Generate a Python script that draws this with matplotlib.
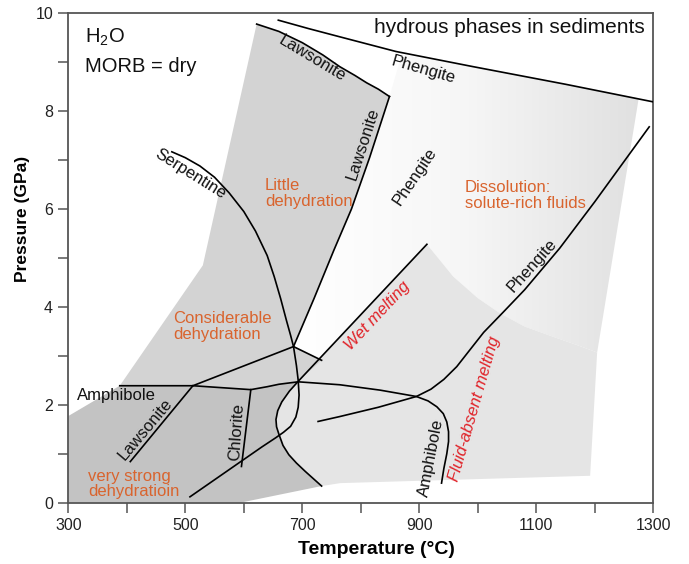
import numpy as np
import matplotlib.pyplot as plt
from matplotlib.patches import Polygon
from matplotlib.colors import LinearSegmentedColormap

plt.rcParams['font.family'] = ['Liberation Sans', 'DejaVu Sans']
plt.rcParams['mathtext.default'] = 'regular'

# ---- phase boundaries (T in degC, P in GPa) ----
serp_T = [477, 500, 525, 550, 575, 600, 620, 640, 652, 663, 673, 680, 685, 690, 693, 694.5, 693, 689, 680, 668, 655, 631, 508]
serp_P = [7.17, 7.05, 6.88, 6.65, 6.33, 5.95, 5.55, 5.05, 4.62, 4.17, 3.72, 3.42, 3.19, 2.80, 2.50, 2.20, 1.95, 1.75, 1.56, 1.44, 1.33, 1.14, 0.12]

wet_T = [913, 693, 678, 665, 658, 655, 656, 660, 667, 677, 690, 705, 733]
wet_P = [5.28, 2.48, 2.28, 2.06, 1.88, 1.70, 1.55, 1.40, 1.17, 0.98, 0.81, 0.64, 0.34]

amph_T = [388, 513, 612, 640, 660, 693, 764, 833, 895, 915, 930, 941, 947, 950, 950, 947, 942, 938]
amph_P = [2.39, 2.39, 2.31, 2.37, 2.42, 2.47, 2.41, 2.30, 2.17, 2.08, 1.96, 1.82, 1.65, 1.45, 1.25, 1.00, 0.70, 0.40]

laws_top_T = [622, 660, 700, 735, 764, 790, 810, 830, 849]
laws_top_P = [9.78, 9.63, 9.40, 9.15, 8.91, 8.73, 8.58, 8.45, 8.30]

laws_right_T = [849, 815, 784, 754, 720, 685]
laws_right_P = [8.30, 7.05, 6.00, 5.16, 4.17, 3.19]

laws_low_T = [513, 406]
laws_low_P = [2.39, 0.84]

chl_T = [612, 596]
chl_P = [2.31, 0.74]

tie_T = [513, 685, 733]
tie_P = [2.39, 3.19, 2.91]

phen_top_T = [659, 710, 764, 860, 992, 1150, 1300]
phen_top_P = [9.86, 9.69, 9.52, 9.22, 8.91, 8.55, 8.19]

phen_low_T = [727, 764, 830, 895, 920, 942, 964, 985, 1010, 1044, 1080, 1140, 1200, 1293]
phen_low_P = [1.66, 1.76, 1.95, 2.17, 2.32, 2.52, 2.78, 3.10, 3.48, 3.90, 4.35, 5.20, 6.15, 7.68]

# ---- shaded fields ----
dark_T = [300, 300, 388, 513, 612, 640, 660, 693] + wet_T[2:] + [594]
dark_P = [0, 1.77, 2.39, 2.39, 2.31, 2.37, 2.42, 2.48] + wet_P[2:] + [0]

mid_T = [388, 530] + laws_top_T + laws_right_T[1:] + [733, 693, 660, 640, 612, 513]
mid_P = [2.39, 4.85] + laws_top_P + laws_right_P[1:] + [2.91, 2.48, 2.42, 2.37, 2.31, 2.39]

arc_T = [913, 958, 1000, 1038, 1080, 1129, 1170, 1204]
arc_P = [5.28, 4.62, 4.18, 3.87, 3.60, 3.39, 3.22, 3.07]

melt_T = wet_T[::-1] + arc_T[1:] + [1192, 765]
melt_P = wet_P[::-1] + arc_P[1:] + [0.55, 0.40]

diss_T = laws_right_T[::-1] + [870, 992, 1150, 1275, 1204] + arc_T[::-1][1:] + [733]
diss_P = laws_right_P[::-1] + [9.16, 8.91, 8.55, 8.26, 3.07] + arc_P[::-1][1:] + [2.91]

fig = plt.figure(figsize=(6.89, 5.64), dpi=100)
ax = fig.add_axes([0.0991, 0.1087, 0.8491, 0.8677])

# solute-rich field fades from white to grey towards high T
cmap = LinearSegmentedColormap.from_list('fade', ['#ffffff', '#f6f6f6', '#e0e0e0'])
diss = Polygon(np.column_stack([diss_T, diss_P]), closed=True, fc='none', ec='none')
ax.add_patch(diss)
im = ax.imshow(np.linspace(0, 1, 256).reshape(1, -1), extent=(690, 1280, 0, 10),
               cmap=cmap, aspect='auto', origin='lower', zorder=1)
im.set_clip_path(diss)

ax.add_patch(Polygon(np.column_stack([melt_T, melt_P]), closed=True, fc='#e5e5e5', ec='none', zorder=1))
ax.add_patch(Polygon(np.column_stack([mid_T, mid_P]), closed=True, fc='#d3d3d3', ec='none', zorder=1))
ax.add_patch(Polygon(np.column_stack([dark_T, dark_P]), closed=True, fc='#c3c3c3', ec='none', zorder=1))

lw = 1.2
for T, P in [(serp_T, serp_P), (wet_T, wet_P), (amph_T, amph_P), (laws_top_T, laws_top_P),
             (laws_right_T, laws_right_P), (laws_low_T, laws_low_P), (chl_T, chl_P),
             (tie_T, tie_P), (phen_top_T, phen_top_P), (phen_low_T, phen_low_P)]:
    ax.plot(T, P, color='black', lw=lw, solid_joinstyle='round', zorder=3)

# labels on the curves
fs = 12
blk = dict(color='#111111', fontsize=fs, ha='center', va='center', rotation_mode='anchor', zorder=4)
ax.text(716, 9.08, 'Lawsonite', rotation=-31, **blk)
ax.text(907, 8.84, 'Phengite', rotation=-16, **blk)
ax.text(804, 7.34, 'Lawsonite', rotation=72, **blk)
ax.text(509, 6.72, 'Serpentine', rotation=-32, **blk)
ax.text(893, 6.66, 'Phengite', rotation=56, **blk)
ax.text(1092, 4.84, 'Phengite', rotation=48, **blk)
ax.text(383, 2.20, 'Amphibole', rotation=0, **blk)
ax.text(432, 1.50, 'Lawsonite', rotation=50, **blk)
ax.text(588, 1.45, 'Chlorite', rotation=86, **blk)
ax.text(921, 0.92, 'Amphibole', rotation=79, **blk)

red = dict(color='#e02228', fontsize=fs, style='italic', ha='center', va='center',
           rotation_mode='anchor', zorder=4)
ax.text(828, 3.82, 'Wet melting', rotation=47, **red)
ax.text(995, 1.91, 'Fluid-absent melting', rotation=74, **red)

orange = dict(color='#d9642e', fontsize=fs, ha='left', va='center', linespacing=1.05, zorder=4)
ax.text(636, 6.32, 'Little\ndehydration', **orange)
ax.text(479, 3.60, 'Considerable\ndehydration', **orange)
ax.text(334, 0.38, 'very strong\ndehydratioin', **orange)
ax.text(978, 6.28, 'Dissolution:\nsolute-rich fluids', **orange)

ax.text(329, 9.50, 'H$_2$O', fontsize=14.5, ha='left', va='center', color='#111111')
ax.text(329, 8.91, 'MORB = dry', fontsize=14.5, ha='left', va='center', color='#111111')
ax.text(1286, 9.70, 'hydrous phases in sediments', fontsize=15, ha='right', va='center',
        color='#111111')

ax.set_xlim(300, 1300)
ax.set_ylim(0, 10)
ax.set_xticks([300, 500, 700, 900, 1100, 1300])
ax.set_xticks([400, 600, 800, 1000, 1200], minor=True)
ax.set_yticks([0, 2, 4, 6, 8, 10])
ax.set_yticks([1, 3, 5, 7, 9], minor=True)
ax.tick_params(which='both', direction='out', length=7, width=1.1, color='#555555',
               labelsize=11.5, labelcolor='#222222', pad=4)
for s in ax.spines.values():
    s.set_color('#555555')
    s.set_linewidth(1.3)

ax.set_xlabel('Temperature (°C)', fontsize=14, fontweight='bold')
ax.set_ylabel('Pressure (GPa)', fontsize=12.5, fontweight='bold')
ax.xaxis.set_label_coords(0.527, -0.078)
ax.xaxis.label.set_va('top')
ax.yaxis.set_label_coords(-0.066, 0.58)

fig.savefig('out.png', dpi=100)
